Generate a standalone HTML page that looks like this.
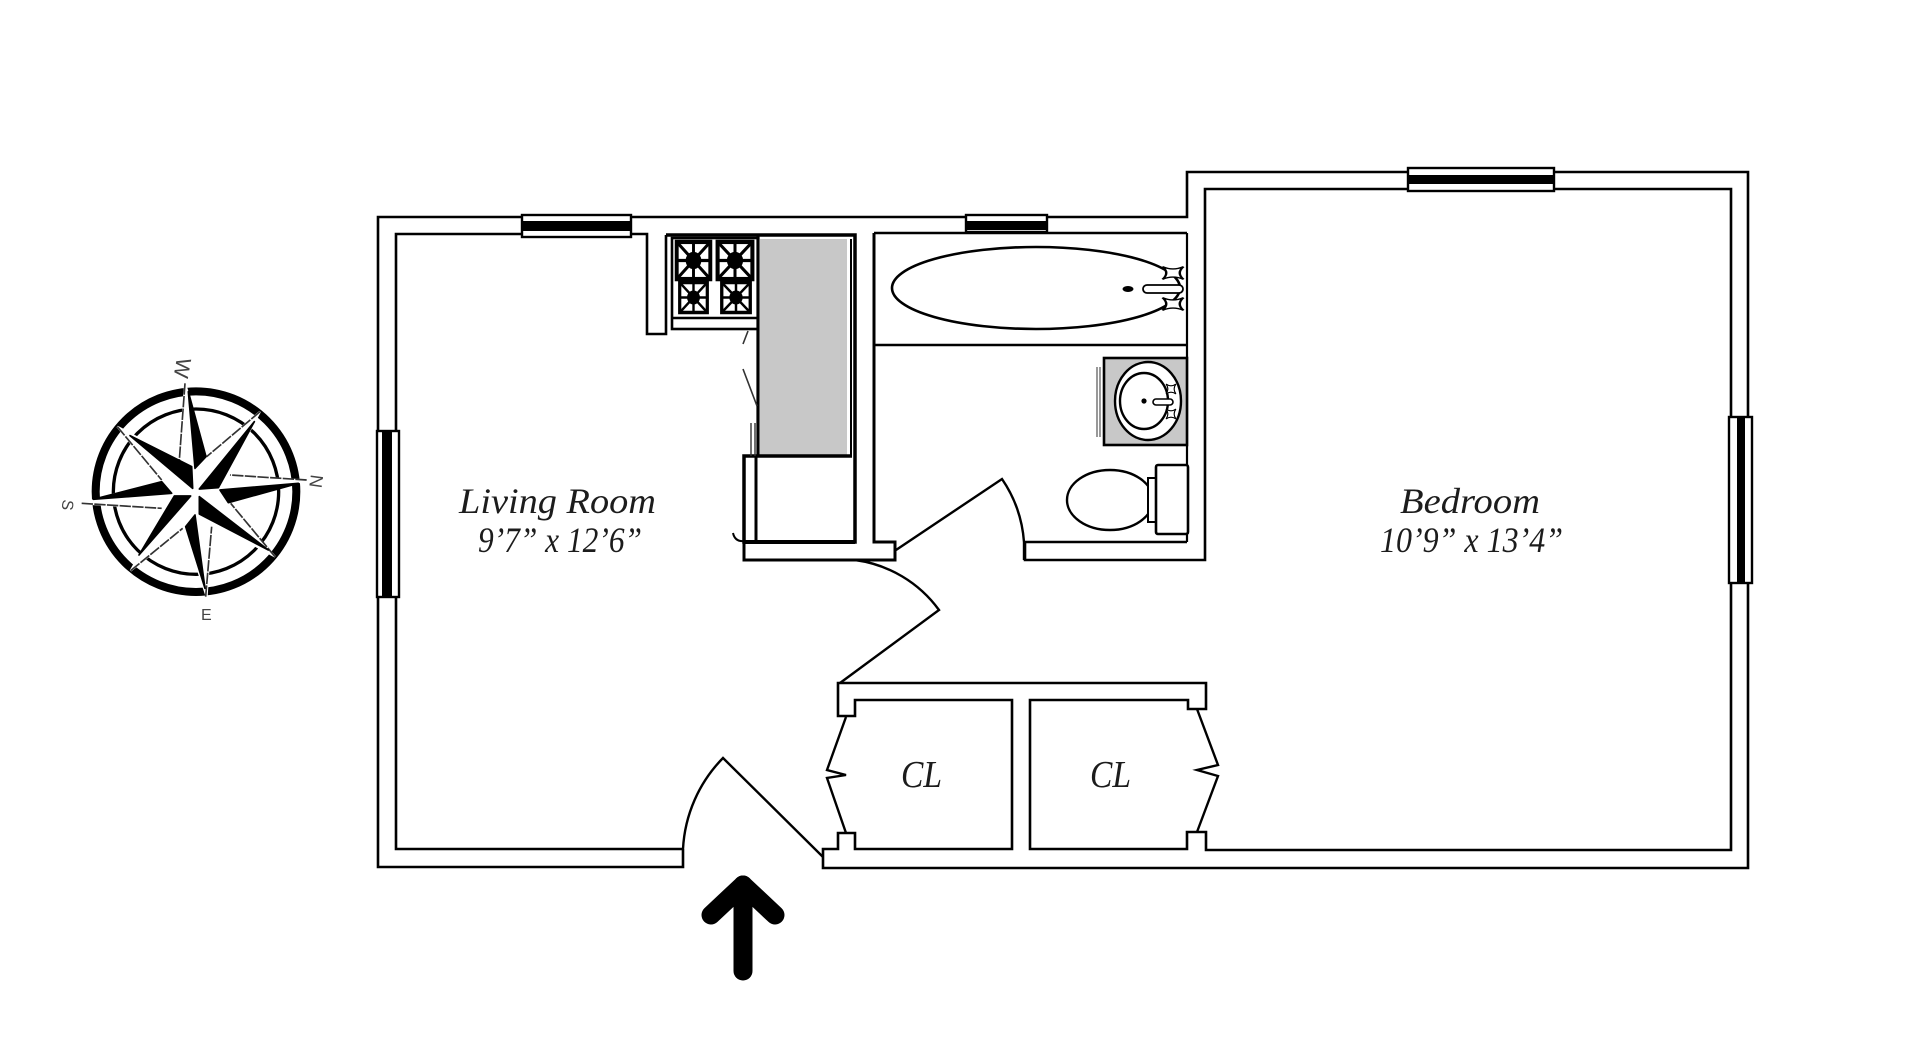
<!DOCTYPE html>
<html>
<head>
<meta charset="utf-8">
<title>Floor plan</title>
<style>
html,body{margin:0;padding:0;background:#fff;}
svg{display:block;}
text{font-family:"Liberation Serif",serif;font-style:italic;fill:#1c1c1c;}
</style>
</head>
<body>
<svg width="1920" height="1063" viewBox="0 0 1920 1063" xmlns="http://www.w3.org/2000/svg">
<defs>
<g id="burner">
  <rect x="-15" y="-15" width="30" height="30" fill="#fff" stroke="#000" stroke-width="3.5"/>
  <path d="M-15-15L15 15M15-15L-15 15M0-15V15M-15 0H15" stroke="#000" stroke-width="2.6" fill="none"/>
  <circle r="7" fill="#000"/>
</g>
<path id="handle" d="M-7-7Q0-2 7-7Q2 0 7 7Q0 2-7 7Q-2 0-7-7Z" fill="#fff" stroke="#000" stroke-width="1.6"/>
</defs>

<rect width="1920" height="1063" fill="#fff"/>

<!-- compass -->
<g transform="translate(40,340) scale(.33333)">
  <circle cx="468" cy="455" r="301" fill="none" stroke="#000" stroke-width="24"/>
  <circle cx="468" cy="455" r="248" fill="none" stroke="#000" stroke-width="10"/>
  <polygon points="435,130 500,350 660,215 552,415 800,420 565,488 705,650 515,545 500,770 432,563 272,692 378,507 125,490 365,422 232,260 418,360" fill="#fff" stroke="#fff" stroke-width="6"/>
  <path d="M435 130L418 360M660 215L500 350M800 420L570 405M705 650L572 490M497 770L515 560M272 692L428 565M125 490L365 505M232 260L365 420" fill="none" stroke="#333" stroke-width="5" stroke-dasharray="34 4"/>
  <g fill="#000" stroke="#000" stroke-width="5" stroke-linejoin="round">
    <polygon points="445,155 498,350 465,385"/>
    <polygon points="775,430 540,450 565,488"/>
    <polygon points="495,745 465,525 437,560"/>
    <polygon points="160,478 395,460 365,425"/>
    <polygon points="643,245 478,447 535,443"/>
    <polygon points="685,630 478,470 478,522"/>
    <polygon points="297,645 403,468 452,468"/>
    <polygon points="270,287 458,445 455,380"/>
  </g>
</g>
<text transform="translate(177,357) rotate(100)" font-size="21" style="font-style:normal;font-family:'Liberation Sans',sans-serif;fill:#444">W</text>
<text transform="translate(311,474) rotate(98)" font-size="18" style="font-style:normal;font-family:'Liberation Sans',sans-serif;fill:#444">N</text>
<text transform="translate(63,499) rotate(98)" font-size="16" style="font-style:normal;font-family:'Liberation Sans',sans-serif;fill:#444">S</text>
<text transform="translate(201,620)" font-size="16" style="font-style:normal;font-family:'Liberation Sans',sans-serif;fill:#444">E</text>

<!-- walls -->
<g fill="none" stroke="#000" stroke-width="2.6" stroke-linejoin="miter">
  <!-- outer shell -->
  <path d="M683 849V867H378V217H1187V172H1748V868H823V849H838V833H855V849H1012V700H855V716H838V683H1206V709H1188V700H1030V849H1187V832H1206V850H1731V189H1205V560H1025V542H1187"/>
  <!-- living inner -->
  <path d="M683 849H396V234H647V334H666V235"/>
  <!-- bath walls -->
  <path d="M1187 233V542" stroke-width="2.2"/>
  <path d="M874 233H1187"/>
  <path d="M874 233V542H895V560H744V542" stroke-width="3"/>
  <path d="M875 345H1187"/>
  <!-- doors -->
  <path d="M683 849A140 140 0 0 1 723 758L823 857" stroke-width="2.4"/>
  <path d="M855 560A124 124 0 0 1 939 610L840 683" stroke-width="2.4"/>
  <path d="M896 550L1002 479A128 128 0 0 1 1024 542V560" stroke-width="2.4"/>
  <!-- closet doors -->
  <path d="M846 717L827 770L846 775L827 778L846 833" stroke-width="2.4"/>
  <path d="M1197 709L1218 765L1197 770L1218 776L1197 832" stroke-width="2.4"/>
</g>

<!-- kitchen -->
<rect x="760" y="239" width="87" height="217" fill="#c8c8c8"/>
<g fill="none" stroke="#000">
  <path d="M666 235H855V542H744V456H852" stroke-width="3.5"/>
  <path d="M744 456V542" stroke-width="2.6"/>
  <path d="M756 456V542" stroke-width="3"/>
  <path d="M851 239V456" stroke-width="2"/>
  <path d="M744 542H855" stroke-width="4"/>
  <path d="M758 236V456" stroke-width="3.2"/>
  <rect x="672" y="238" width="86" height="91" stroke-width="2.6"/>
  <path d="M672 318H758" stroke-width="2.4"/>
  <path d="M751 423V456M755 423V456" stroke="#333" stroke-width="1.4"/>
  <path d="M748 331L743 344M743 369L757 406" stroke="#333" stroke-width="1.6"/>
  <path d="M733 533Q735 542 744 541" stroke-width="2"/>
</g>
<use href="#burner" transform="translate(693.5,260.5) scale(1.12,1.24)"/>
<use href="#burner" transform="translate(735,260.5) scale(1.16,1.24)"/>
<use href="#burner" transform="translate(693.5,297.5) scale(.92,1)"/>
<use href="#burner" transform="translate(736,297.5) scale(.95,1)"/>

<!-- windows -->
<g stroke="#000" stroke-width="2.4" fill="#fff">
  <rect x="522" y="215" width="109" height="22"/>
  <rect x="377" y="431" width="22" height="166"/>
  <rect x="966" y="215" width="81" height="17"/>
  <rect x="1408" y="168" width="146" height="23"/>
  <rect x="1729" y="417" width="23" height="166"/>
</g>
<g fill="#000">
  <rect x="522" y="221" width="109" height="10"/>
  <rect x="382" y="431" width="10" height="166"/>
  <rect x="966" y="221" width="81" height="9"/>
  <rect x="1408" y="175" width="146" height="9"/>
  <rect x="1737" y="417" width="8" height="166"/>
</g>

<!-- tub -->
<ellipse cx="1036" cy="288" rx="144" ry="41" fill="#fff" stroke="#000" stroke-width="2.6"/>
<ellipse cx="1128" cy="289" rx="5.5" ry="3" fill="#000"/>
<use href="#handle" transform="translate(1173,273) scale(1.5,.9)"/>
<use href="#handle" transform="translate(1173,304) scale(1.5,.9)"/>
<rect x="1143" y="285" width="40" height="8" rx="4" fill="#fff" stroke="#000" stroke-width="1.8"/>

<!-- sink -->
<rect x="1104" y="358" width="83" height="87" fill="#c8c8c8" stroke="#000" stroke-width="2.6"/>
<ellipse cx="1148" cy="401" rx="33" ry="39" fill="#fff" stroke="#000" stroke-width="2.4"/>
<ellipse cx="1144" cy="401" rx="24" ry="28" fill="#fff" stroke="#000" stroke-width="2.4"/>
<circle cx="1144" cy="401" r="2.6" fill="#000"/>
<use href="#handle" transform="translate(1171,389) scale(.7)"/>
<use href="#handle" transform="translate(1171,414) scale(.7)"/>
<rect x="1153" y="399" width="20" height="6" rx="3" fill="#fff" stroke="#000" stroke-width="1.6"/>
<path d="M1097 367V437M1100 367V437" stroke="#555" stroke-width="1.2" fill="none"/>

<!-- toilet -->
<ellipse cx="1110" cy="500" rx="43" ry="30" fill="#fff" stroke="#000" stroke-width="2.4"/>
<rect x="1148" y="478" width="9" height="44" fill="#fff" stroke="#000" stroke-width="2"/>
<rect x="1156" y="465" width="32" height="69" rx="2" fill="#fff" stroke="#000" stroke-width="2.6"/>

<!-- entry arrow -->
<g fill="none" stroke="#000" stroke-width="19" stroke-linecap="round" stroke-linejoin="round">
  <path d="M743 885V971"/>
  <path d="M711 915L743 885L775 915"/>
</g>

<!-- labels -->
<text x="459" y="513" font-size="36" textLength="197" lengthAdjust="spacingAndGlyphs">Living Room</text>
<text x="478" y="552" font-size="36" textLength="164" lengthAdjust="spacingAndGlyphs">9’7” x 12’6”</text>
<text x="1400" y="513" font-size="36" textLength="140" lengthAdjust="spacingAndGlyphs">Bedroom</text>
<text x="1380" y="552" font-size="36" textLength="183" lengthAdjust="spacingAndGlyphs">10’9” x 13’4”</text>
<text x="901" y="787" font-size="38" textLength="41" lengthAdjust="spacingAndGlyphs">CL</text>
<text x="1090" y="787" font-size="38" textLength="41" lengthAdjust="spacingAndGlyphs">CL</text>
</svg>
</body>
</html>
